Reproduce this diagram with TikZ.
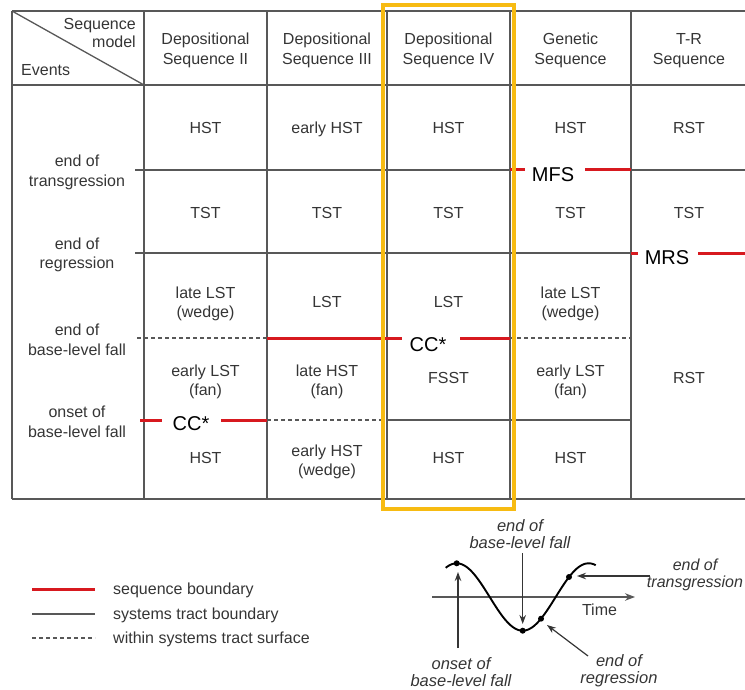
\documentclass[tikz,border=0pt]{standalone}
\usepackage{fontspec}
\setmainfont{Liberation Sans}
\usetikzlibrary{arrows.meta,calc}
\definecolor{txt}{HTML}{353535}
\definecolor{ln}{HTML}{585858}
\definecolor{sbred}{HTML}{D7191F}
\definecolor{amber}{HTML}{F7BB12}
\begin{document}
\begin{tikzpicture}[x=1pt,y=-1pt,
  cell/.style={anchor=base, inner sep=0pt, text=txt, align=center, font=\fontsize{16}{19}\selectfont},
  hdr/.style={anchor=base, inner sep=0pt, text=txt, align=center, font=\fontsize{16}{20}\selectfont},
  tag/.style={anchor=base, inner sep=0pt, text=black, font=\fontsize{20}{22}\selectfont},
  leg/.style={anchor=base west, inner sep=0pt, text=txt, font=\fontsize{16}{18}\selectfont},
  ann/.style={anchor=base, inner sep=0pt, text=txt, align=center, font=\fontsize{16.5}{17}\selectfont\itshape},
  grid/.style={draw=ln, line width=1.3pt},
  seqb/.style={draw=sbred, line width=3pt},
  wst/.style={draw=ln, line width=1.1pt, dash pattern=on 4pt off 3pt},
  hilite/.style={draw=amber, line width=4.5pt},
  curve/.style={draw=black, line width=1.9pt},
  pt/.style={circle, fill=black, inner sep=0pt, minimum size=6pt},
  ptr/.style={draw=txt, line width=1.2pt, -{Stealth[length=9pt,width=6.5pt]}},
  axis/.style={draw=ln, line width=1.4pt, -{Stealth[length=10pt,width=7.5pt]}}
]
\useasboundingbox (0,0) rectangle (745,690);

% ---- table grid ----
\draw[grid] (12,11) -- (745,11);
\draw[grid] (12,85) -- (745,85);
\draw[grid] (12,499) -- (745,499);
\foreach \xx in {12,144,267,387,510,631} {\draw[grid] (\xx,11) -- (\xx,499);}
\draw[grid] (12,11) -- (144,85);

% row: end of transgression
\draw[grid] (135,170) -- (510,170);
\draw[seqb] (510,170) -- (525,170);
\draw[seqb] (585,170) -- (631,170);
\draw[grid] (631,170) -- (745,170);
% row: end of regression
\draw[grid] (135,253) -- (631,253);
\draw[seqb] (631,253) -- (638,253);
\draw[seqb] (698,253) -- (745,253);
% row: end of base-level fall
\draw[wst] (137,338) -- (267,338);
\draw[seqb] (267,338) -- (402,338);
\draw[seqb] (460,338) -- (510,338);
\draw[wst] (510,338) -- (631,338);
% row: onset of base-level fall
\draw[seqb] (140,420) -- (162,420);
\draw[seqb] (221,420) -- (267,420);
\draw[wst] (267,420) -- (387,420);
\draw[grid] (387,420) -- (631,420);

% labels on sequence boundaries
\node[tag] (mfs) at (553,182) {MFS};
\node[tag] (mrs) at (667,265) {MRS};
\node[tag] (cc4) at (428,351) {CC*};
\node[tag] (cc2) at (191,430) {CC*};

% ---- header ----
\node[hdr, anchor=base east] (sq) at (136,30) {Sequence};
\node[hdr, anchor=base east] (md) at (136,48) {model};
\node[hdr, anchor=base west] (ev) at (21,75.5) {Events};
\node[hdr] (h2) at (205.5,65) {Depositional\\Sequence II};
\node[hdr] (h3) at (327,65) {Depositional\\Sequence III};
\node[hdr] (h4) at (448.5,65) {Depositional\\Sequence IV};
\node[hdr] (hg) at (570.5,65) {Genetic\\Sequence};
\node[hdr] (ht) at (689,65) {T-R\\Sequence};

% ---- events ----
\node[hdr] (e1) at (77,186) {end of\\transgression};
\node[hdr] (e2) at (77,269) {end of\\regression};
\node[hdr] (e3) at (77,355.5) {end of\\base-level fall};
\node[hdr] (e4) at (77,437.5) {onset of\\base-level fall};

% ---- cells ----
\node[cell] (c21) at (205.5,133.7) {HST};
\node[cell] (c22) at (205.5,218.7) {TST};
\node[cell] (c23) at (205.5,317.5) {late LST\\(wedge)};
\node[cell] (c24) at (205.5,395.5) {early LST\\(fan)};
\node[cell] (c25) at (205.5,463.7) {HST};

\node[cell] (c31) at (327,133.7) {early HST};
\node[cell] (c32) at (327,218.7) {TST};
\node[cell] (c33) at (327,307.7) {LST};
\node[cell] (c34) at (327,395.5) {late HST\\(fan)};
\node[cell] (c35) at (327,475.5) {early HST\\(wedge)};

\node[cell] (c41) at (448.5,133.7) {HST};
\node[cell] (c42) at (448.5,218.7) {TST};
\node[cell] (c43) at (448.5,307.7) {LST};
\node[cell] (c44) at (448.5,383.7) {FSST};
\node[cell] (c45) at (448.5,463.7) {HST};

\node[cell] (cg1) at (570.5,133.7) {HST};
\node[cell] (cg2) at (570.5,218.7) {TST};
\node[cell] (cg3) at (570.5,317.5) {late LST\\(wedge)};
\node[cell] (cg4) at (570.5,395.5) {early LST\\(fan)};
\node[cell] (cg5) at (570.5,463.7) {HST};

\node[cell] (ct1) at (689,133.7) {RST};
\node[cell] (ct2) at (689,218.7) {TST};
\node[cell] (ct3) at (689,383.7) {RST};

% ---- highlight ----
\draw[hilite] (383,5) rectangle (514,509);

% ---- legend ----
\coordinate (l1a) at (32,589); \coordinate (l1b) at (95,589);
\coordinate (l2a) at (32,614); \coordinate (l2b) at (95,614);
\coordinate (l3a) at (32,638); \coordinate (l3b) at (95,638);
\draw[seqb] (l1a) -- (l1b);
\draw[grid] (l2a) -- (l2b);
\draw[wst] (l3a) -- (l3b);
\node[leg] (t1) at (113,594.5) {sequence boundary};
\node[leg] (t2) at (113,619) {systems tract boundary};
\node[leg] (t3) at (113,643) {within systems tract surface};

% ---- base-level curve ----
\coordinate (ax0) at (432,597);
\coordinate (ax1) at (635,597);
\draw[axis] (ax0) -- (ax1);
\node[anchor=base, inner sep=0pt, text=txt, font=\fontsize{16}{18}\selectfont] (time) at (599.5,615.5) {Time};
\draw[curve] plot[domain=-11:139, samples=100, smooth] ({456.7+\x},{597-33.7*cos(\x/66*180)});
\node[pt] (p1) at (456.7,563.3) {};
\node[pt] (p2) at (522.7,630.7) {};
\node[pt] (p3) at (541,618.7) {};
\node[pt] (p4) at (569,577) {};

\coordinate (a1) at (458,648);
\coordinate (a2) at (522.7,553);
\coordinate (a3) at (650,576);
\coordinate (a4) at (588,656);
\coordinate (b1) at (458,572);
\coordinate (b2) at (522.7,624);
\coordinate (b3) at (577,576);
\coordinate (b4) at (547,625);
\draw[ptr] (a1) -- (b1);
\draw[ptr] (a2) -- (b2);
\draw[ptr] (a3) -- (b3);
\draw[ptr] (a4) -- (b4);

\node[ann] (n1) at (461,686) {onset of\\base-level fall};
\node[ann] (n2) at (520,548) {end of\\base-level fall};
\node[ann, font=\fontsize{16}{17}\selectfont\itshape] (n3) at (695,587) {end of\\transgression};
\node[ann] (n4) at (619,683) {end of\\regression};
\end{tikzpicture}
\end{document}
